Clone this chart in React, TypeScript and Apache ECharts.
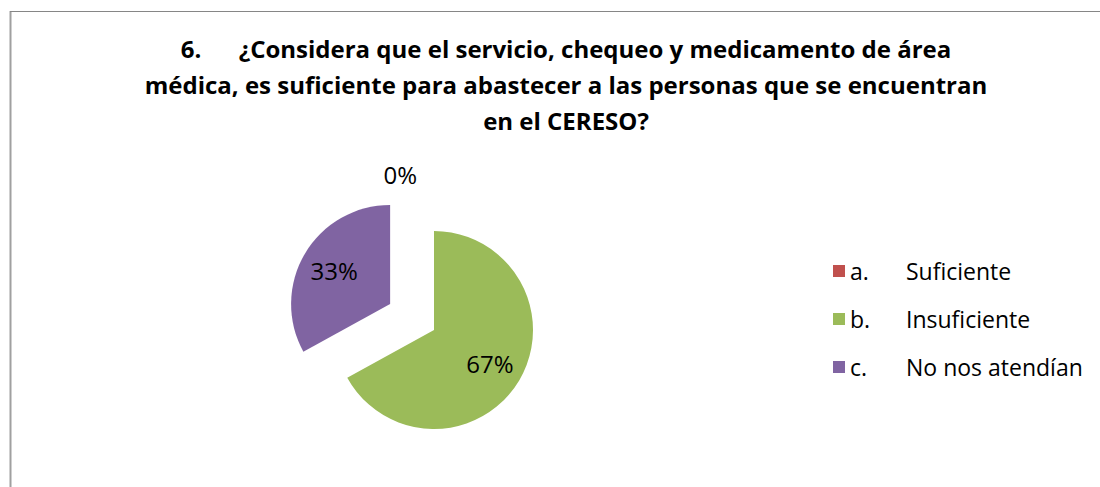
import React, { useEffect, useRef } from "react";
import * as echarts from "echarts";

const titleLines = [
  "6.      ¿Considera que el servicio, chequeo y medicamento de área",
  "médica, es suficiente para abastecer a las personas que se encuentran",
  "en el CERESO?",
];
const letters = ["a.", "b.", "c."];
const categories = ["Suficiente", "Insuficiente", "No nos atendían"];
const values = [0, 67, 33];
const colors = ["#C0504D", "#9BBB59", "#8064A2"];
const exploded = [true, false, true];

export default function App() {
  const ref = useRef<HTMLDivElement>(null);
  useEffect(() => {
    if (!ref.current) return;
    const chart = echarts.init(ref.current, null, { renderer: "svg" });
    const font = "'Open Sans', sans-serif";
    const mainData = categories.map((name, i) => ({
      name,
      value: values[i],
      selected: exploded[i],
      itemStyle: { color: colors[i] },
      label:
        i === 0
          ? { show: true, position: "outside" }
          : { show: false },
      labelLine: { show: false, length: 0, length2: 0 },
    }));
    const labelData = categories.map((name, i) => ({
      name,
      value: values[i],
      selected: exploded[i],
      label: { show: i !== 0 },
    }));
    chart.setOption({
      animation: false,
      backgroundColor: "#ffffff",
      title: {
        text: titleLines.join("\n"),
        left: 561,
        top: 25,
        textAlign: "center",
        textStyle: {
          fontFamily: font,
          fontWeight: "bold",
          fontSize: 24,
          lineHeight: 36,
          color: "#000000",
        },
      },
      legend: {
        orient: "vertical",
        left: 828,
        top: 251,
        itemWidth: 12,
        itemHeight: 12,
        itemGap: 18,
        icon: "rect",
        selectedMode: false,
        data: categories,
        formatter: (name: string) => {
          const i = categories.indexOf(name);
          return `{a|${letters[i]}}{b|${name}}`;
        },
        textStyle: {
          fontFamily: font,
          fontSize: 23,
          color: "#000000",
          lineHeight: 30,
          rich: {
            a: { width: 56, fontFamily: font, fontSize: 23, color: "#000" },
            b: { fontFamily: font, fontSize: 23, color: "#000" },
          },
        },
      },
      graphic: [
        {
          type: "line",
          shape: { x1: 10.5, y1: 11, x2: 10.5, y2: 487 },
          style: { stroke: "#a0a0a0", lineWidth: 2 },
        },
        {
          type: "line",
          shape: { x1: 10, y1: 11.5, x2: 1100, y2: 11.5 },
          style: { stroke: "#868686", lineWidth: 1 },
        },
      ],
      series: [
        {
          type: "pie",
          center: [434, 330],
          radius: 99,
          startAngle: 90,
          clockwise: true,
          selectedMode: "multiple",
          selectedOffset: 51,
          avoidLabelOverlap: false,
          silent: true,
          emphasis: { disabled: true },
          itemStyle: { borderWidth: 0 },
          label: {
            fontFamily: font,
            fontSize: 24,
            color: "#000",
            formatter: "{d}%",
          },
          labelLayout: (p: any) =>
            p.dataIndex === 0 ? { align: "right", dx: -12, dy: -6 } : {},
          data: mainData,
        },
        {
          type: "pie",
          center: [434, 330],
          radius: 124,
          startAngle: 90,
          clockwise: true,
          selectedMode: "multiple",
          selectedOffset: 51,
          avoidLabelOverlap: false,
          silent: true,
          emphasis: { disabled: true },
          itemStyle: { color: "rgba(0,0,0,0)", borderWidth: 0 },
          label: {
            position: "inside",
            fontFamily: font,
            fontSize: 24,
            color: "#000",
            formatter: "{d}%",
          },
          labelLine: { show: false },
          data: labelData,
        },
      ],
    });
    return () => chart.dispose();
  }, []);
  return (
    <div
      ref={ref}
      style={{ position: "fixed", left: 0, top: 0, width: 1100, height: 487 }}
    />
  );
}
